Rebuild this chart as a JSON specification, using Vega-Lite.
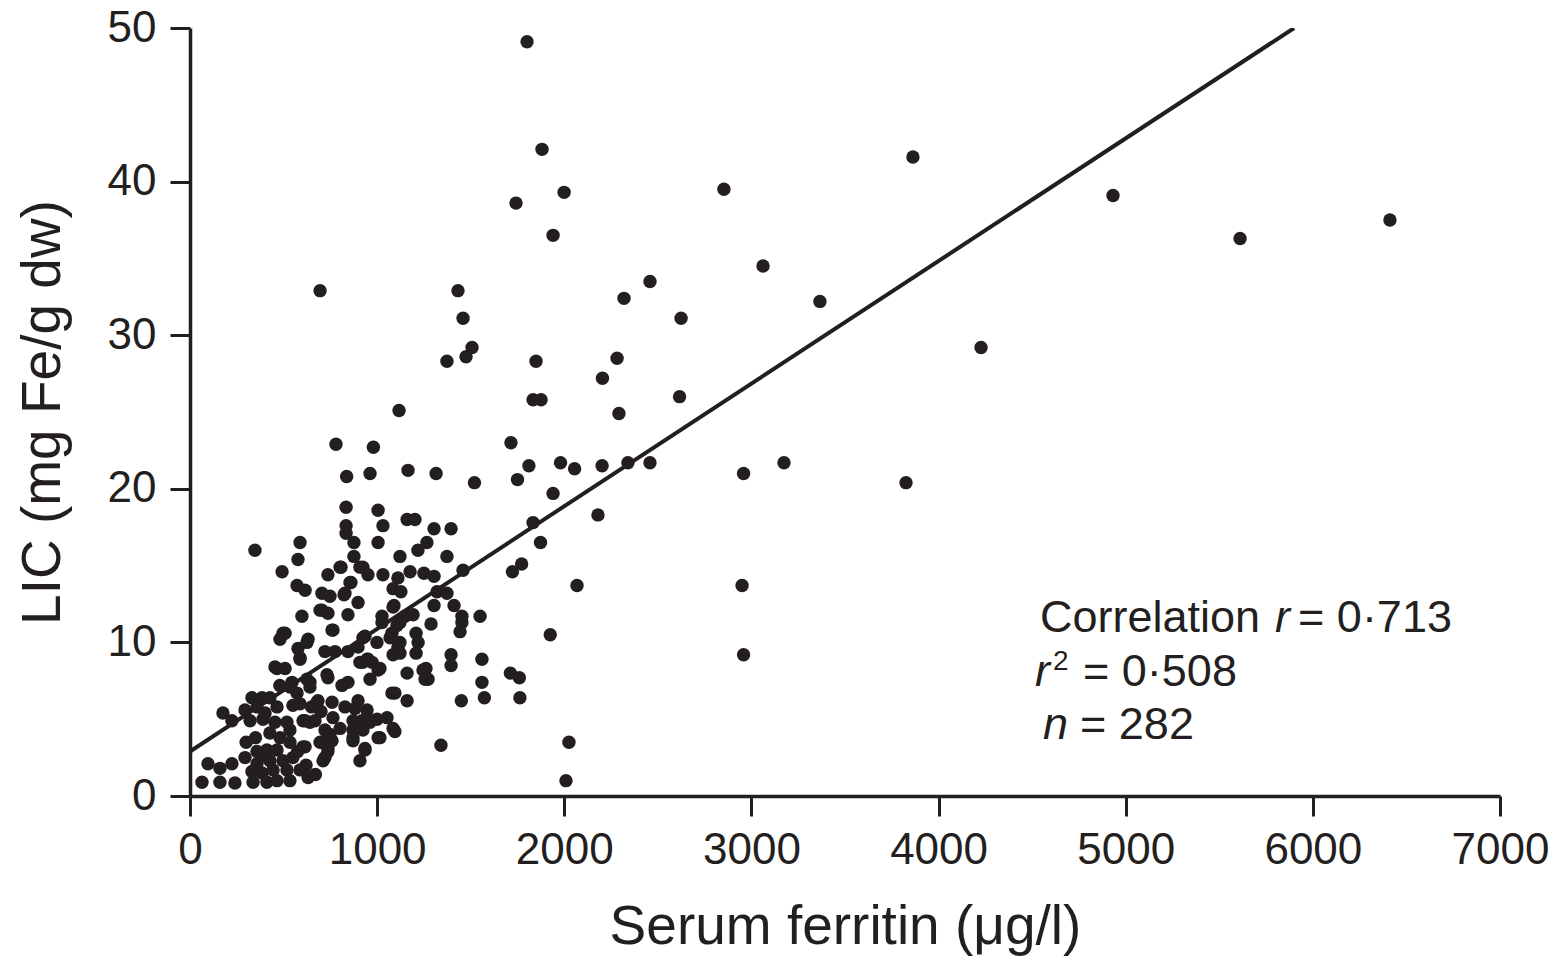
{
  "$schema": "https://vega.github.io/schema/vega-lite/v6.json",
  "autosize": "none",
  "width": 1310,
  "height": 768,
  "padding": {"left": 190, "top": 28, "right": 65, "bottom": 168},
  "background": "white",
  "config": {
    "view": {"stroke": null},
    "font": "Liberation Sans",
    "axis": {
      "grid": false,
      "domainColor": "#231f20",
      "domainWidth": 3.5,
      "tickColor": "#231f20",
      "tickWidth": 3,
      "tickSize": 20,
      "labelFont": "Liberation Sans",
      "labelFontSize": 44,
      "labelColor": "#231f20",
      "titleFont": "Liberation Sans",
      "titleFontSize": 55,
      "titleFontWeight": "normal",
      "titleColor": "#231f20"
    }
  },
  "datasets": {
    "points": [
      {"ferritin":1801,"lic":49.1},{"ferritin":1881,"lic":42.1},{"ferritin":1742,"lic":38.6},{"ferritin":1999,"lic":39.3},{"ferritin":1940,"lic":36.5},{"ferritin":2853,"lic":39.5},{"ferritin":3863,"lic":41.6},{"ferritin":4932,"lic":39.1},{"ferritin":5611,"lic":36.3},{"ferritin":6412,"lic":37.5},
      {"ferritin":3062,"lic":34.5},{"ferritin":3366,"lic":32.2},{"ferritin":2458,"lic":33.5},{"ferritin":2319,"lic":32.4},{"ferritin":2624,"lic":31.1},{"ferritin":2282,"lic":28.5},{"ferritin":4227,"lic":29.2},{"ferritin":2616,"lic":26.0},{"ferritin":2292,"lic":24.9},{"ferritin":695,"lic":32.9},
      {"ferritin":1432,"lic":32.9},{"ferritin":1459,"lic":31.1},{"ferritin":1507,"lic":29.2},{"ferritin":1475,"lic":28.6},{"ferritin":1373,"lic":28.3},{"ferritin":1849,"lic":28.3},{"ferritin":1833,"lic":25.8},{"ferritin":1876,"lic":25.8},{"ferritin":1117,"lic":25.1},{"ferritin":1715,"lic":23.0},
      {"ferritin":780,"lic":22.9},{"ferritin":980,"lic":22.7},{"ferritin":2204,"lic":27.2},{"ferritin":1980,"lic":21.7},{"ferritin":2055,"lic":21.3},{"ferritin":1811,"lic":21.5},{"ferritin":2202,"lic":21.5},{"ferritin":2340,"lic":21.7},{"ferritin":2458,"lic":21.7},{"ferritin":3174,"lic":21.7},
      {"ferritin":2958,"lic":21.0},{"ferritin":1750,"lic":20.6},{"ferritin":1520,"lic":20.4},{"ferritin":3826,"lic":20.4},{"ferritin":1940,"lic":19.7},{"ferritin":1165,"lic":21.2},{"ferritin":1315,"lic":21.0},{"ferritin":962,"lic":21.0},{"ferritin":837,"lic":20.8},{"ferritin":1833,"lic":17.8},
      {"ferritin":1873,"lic":16.5},{"ferritin":2180,"lic":18.3},{"ferritin":1772,"lic":15.1},{"ferritin":1723,"lic":14.6},{"ferritin":1459,"lic":14.7},{"ferritin":2068,"lic":13.7},{"ferritin":2950,"lic":13.7},{"ferritin":1925,"lic":10.5},{"ferritin":2958,"lic":9.2},{"ferritin":1550,"lic":11.7},
      {"ferritin":1712,"lic":8.0},{"ferritin":1760,"lic":7.7},{"ferritin":1763,"lic":6.4},{"ferritin":1573,"lic":6.4},{"ferritin":1450,"lic":6.2},{"ferritin":1341,"lic":3.3},{"ferritin":2025,"lic":3.5},{"ferritin":2009,"lic":1.0},{"ferritin":347,"lic":16.0},
      {"ferritin":834,"lic":18.8},{"ferritin":1005,"lic":18.6},{"ferritin":834,"lic":17.6},{"ferritin":834,"lic":17.1},{"ferritin":1031,"lic":17.6},{"ferritin":1160,"lic":18.0},{"ferritin":1202,"lic":18.0},{"ferritin":1304,"lic":17.4},{"ferritin":1395,"lic":17.4},{"ferritin":588,"lic":16.5},
      {"ferritin":876,"lic":16.5},{"ferritin":1005,"lic":16.5},{"ferritin":1266,"lic":16.5},{"ferritin":577,"lic":15.4},{"ferritin":876,"lic":15.6},{"ferritin":1122,"lic":15.6},{"ferritin":1218,"lic":16.0},{"ferritin":1373,"lic":15.6},{"ferritin":492,"lic":14.6},{"ferritin":807,"lic":14.9},
      {"ferritin":924,"lic":14.9},{"ferritin":951,"lic":14.4},{"ferritin":737,"lic":14.4},{"ferritin":1031,"lic":14.4},{"ferritin":1111,"lic":14.2},{"ferritin":1176,"lic":14.6},{"ferritin":1250,"lic":14.5},{"ferritin":1304,"lic":14.3},{"ferritin":572,"lic":13.7},{"ferritin":615,"lic":13.4},
      {"ferritin":705,"lic":13.2},{"ferritin":748,"lic":13.0},{"ferritin":823,"lic":13.1},{"ferritin":860,"lic":13.9},{"ferritin":898,"lic":12.6},{"ferritin":1085,"lic":13.5},{"ferritin":1127,"lic":13.3},{"ferritin":1320,"lic":13.3},{"ferritin":1373,"lic":13.2},{"ferritin":1090,"lic":12.4},
      {"ferritin":1304,"lic":12.4},{"ferritin":1411,"lic":12.4},{"ferritin":598,"lic":11.7},{"ferritin":705,"lic":12.1},{"ferritin":737,"lic":11.9},{"ferritin":844,"lic":11.8},{"ferritin":1026,"lic":11.7},{"ferritin":1149,"lic":11.7},{"ferritin":1192,"lic":11.8},{"ferritin":1453,"lic":11.7},
      {"ferritin":1560,"lic":8.9},{"ferritin":1560,"lic":7.4},{"ferritin":1395,"lic":9.2},{"ferritin":1395,"lic":8.5},{"ferritin":1443,"lic":10.7},{"ferritin":1453,"lic":11.3},{"ferritin":1288,"lic":11.2},{"ferritin":1261,"lic":8.3},{"ferritin":1272,"lic":7.6},{"ferritin":1160,"lic":8.0},
      {"ferritin":1160,"lic":6.2},{"ferritin":1095,"lic":6.7},{"ferritin":1095,"lic":4.2},{"ferritin":1208,"lic":10.6},{"ferritin":1219,"lic":10.0},{"ferritin":1208,"lic":9.3},{"ferritin":1122,"lic":10.0},{"ferritin":1122,"lic":9.3},{"ferritin":1122,"lic":11.3},
      {"ferritin":508,"lic":10.6},{"ferritin":577,"lic":9.6},{"ferritin":631,"lic":10.2},{"ferritin":588,"lic":8.9},{"ferritin":465,"lic":8.3},{"ferritin":508,"lic":8.3},{"ferritin":545,"lic":7.4},{"ferritin":641,"lic":7.4},{"ferritin":721,"lic":9.4},{"ferritin":775,"lic":9.4},
      {"ferritin":844,"lic":9.4},{"ferritin":898,"lic":9.7},{"ferritin":759,"lic":10.8},{"ferritin":935,"lic":10.4},{"ferritin":999,"lic":10.0},{"ferritin":1026,"lic":11.3},{"ferritin":1079,"lic":10.6},{"ferritin":1111,"lic":9.7},{"ferritin":908,"lic":8.7},{"ferritin":951,"lic":8.9},
      {"ferritin":1005,"lic":8.2},{"ferritin":962,"lic":7.6},{"ferritin":737,"lic":7.7},{"ferritin":812,"lic":7.2},{"ferritin":1079,"lic":6.7},{"ferritin":684,"lic":6.2},{"ferritin":759,"lic":6.1},{"ferritin":828,"lic":5.8},{"ferritin":882,"lic":5.7},{"ferritin":946,"lic":5.6},
      {"ferritin":919,"lic":4.9},{"ferritin":962,"lic":4.8},{"ferritin":1053,"lic":5.1},{"ferritin":1085,"lic":4.4},{"ferritin":1005,"lic":3.8},{"ferritin":935,"lic":3.1},{"ferritin":871,"lic":3.6},{"ferritin":748,"lic":4.0},{"ferritin":705,"lic":3.5},{"ferritin":737,"lic":3.1},
      {"ferritin":711,"lic":2.3},{"ferritin":908,"lic":2.3},{"ferritin":481,"lic":10.2},{"ferritin":497,"lic":10.6},{"ferritin":454,"lic":8.4},{"ferritin":625,"lic":7.6},{"ferritin":641,"lic":7.1},{"ferritin":732,"lic":7.9},{"ferritin":844,"lic":7.4},{"ferritin":1245,"lic":8.2},
      {"ferritin":1256,"lic":7.6},{"ferritin":924,"lic":10.3},{"ferritin":1069,"lic":10.3},{"ferritin":1106,"lic":11.1},{"ferritin":1085,"lic":9.2},{"ferritin":946,"lic":8.9},{"ferritin":764,"lic":10.8},{"ferritin":924,"lic":8.7},{"ferritin":973,"lic":8.7},{"ferritin":1015,"lic":8.3},
      {"ferritin":695,"lic":12.1},{"ferritin":1085,"lic":12.3},
      {"ferritin":64,"lic":0.9},{"ferritin":160,"lic":0.9},{"ferritin":240,"lic":0.85},{"ferritin":96,"lic":2.1},{"ferritin":160,"lic":1.8},{"ferritin":224,"lic":2.1},{"ferritin":294,"lic":2.5},{"ferritin":176,"lic":5.4},{"ferritin":224,"lic":4.9},{"ferritin":294,"lic":5.6},
      {"ferritin":331,"lic":6.4},{"ferritin":385,"lic":6.4},{"ferritin":427,"lic":6.4},{"ferritin":358,"lic":5.8},{"ferritin":321,"lic":4.9},{"ferritin":401,"lic":5.4},{"ferritin":465,"lic":5.8},{"ferritin":534,"lic":7.1},{"ferritin":572,"lic":6.7},{"ferritin":550,"lic":5.9},
      {"ferritin":454,"lic":4.8},{"ferritin":518,"lic":4.8},{"ferritin":604,"lic":4.9},{"ferritin":641,"lic":4.8},{"ferritin":427,"lic":4.1},{"ferritin":481,"lic":3.8},{"ferritin":534,"lic":4.3},{"ferritin":604,"lic":3.2},{"ferritin":534,"lic":3.5},{"ferritin":411,"lic":3.0},
      {"ferritin":358,"lic":2.9},{"ferritin":465,"lic":3.0},{"ferritin":358,"lic":2.1},{"ferritin":427,"lic":2.3},{"ferritin":497,"lic":2.3},{"ferritin":550,"lic":2.5},{"ferritin":331,"lic":1.6},{"ferritin":385,"lic":1.5},{"ferritin":444,"lic":1.7},{"ferritin":518,"lic":1.7},
      {"ferritin":588,"lic":1.7},{"ferritin":337,"lic":0.9},{"ferritin":411,"lic":0.9},{"ferritin":465,"lic":1.0},{"ferritin":534,"lic":1.0},{"ferritin":631,"lic":1.2},{"ferritin":615,"lic":4.9},{"ferritin":668,"lic":4.9},{"ferritin":764,"lic":5.1},{"ferritin":871,"lic":4.9},
      {"ferritin":946,"lic":5.1},{"ferritin":721,"lic":4.3},{"ferritin":802,"lic":4.4},{"ferritin":871,"lic":4.3},{"ferritin":924,"lic":4.3},{"ferritin":759,"lic":3.6},{"ferritin":871,"lic":3.8},{"ferritin":1015,"lic":3.8},{"ferritin":695,"lic":3.5},{"ferritin":615,"lic":3.2},
      {"ferritin":737,"lic":2.9},{"ferritin":935,"lic":3.0},{"ferritin":721,"lic":2.5},{"ferritin":679,"lic":6.1},{"ferritin":588,"lic":9.0},{"ferritin":625,"lic":10.0},{"ferritin":802,"lic":14.9},{"ferritin":908,"lic":14.9},{"ferritin":855,"lic":13.9},{"ferritin":828,"lic":13.2},
      {"ferritin":898,"lic":6.2},{"ferritin":588,"lic":6.0},{"ferritin":650,"lic":5.8},{"ferritin":700,"lic":5.5},{"ferritin":1000,"lic":5.0},{"ferritin":480,"lic":7.2},{"ferritin":390,"lic":5.0},{"ferritin":350,"lic":3.8},{"ferritin":300,"lic":3.5},{"ferritin":620,"lic":2.0},
      {"ferritin":670,"lic":1.4},{"ferritin":575,"lic":2.9},{"ferritin":400,"lic":2.6}
    ],
    "fit": [{"ferritin": 0, "lic": 2.9}, {"ferritin": 5900, "lic": 50}],
    "annNormal": [
      {"ferritin": 4542, "lic": 10.68, "label": "Correlation"},
      {"ferritin": 5921, "lic": 10.68, "label": "= 0·713"},
      {"ferritin": 4772, "lic": 7.16, "label": "= 0·508"},
      {"ferritin": 4756, "lic": 3.71, "label": "= 282"}
    ],
    "annItalic": [
      {"ferritin": 5798, "lic": 10.68, "label": "r"},
      {"ferritin": 4515, "lic": 7.16, "label": "r"},
      {"ferritin": 4558, "lic": 3.71, "label": "n"}
    ],
    "annSup": [
      {"ferritin": 4612, "lic": 8.2, "label": "2"}
    ]
  },
  "encoding": {
    "x": {
      "field": "ferritin", "type": "quantitative",
      "scale": {"domain": [0, 7000], "nice": false, "zero": false},
      "axis": {"values": [0,1000,2000,3000,4000,5000,6000,7000], "format": "d", "title": "Serum ferritin (μg/l)", "labelPadding": 12, "titlePadding": 28, "labelFlush": false}
    },
    "y": {
      "field": "lic", "type": "quantitative",
      "scale": {"domain": [0, 50], "nice": false, "zero": false},
      "axis": {"values": [0,10,20,30,40,50], "format": "d", "title": "LIC (mg Fe/g dw)", "labelPadding": 14, "titlePadding": 36, "labelFlush": false}
    }
  },
  "layer": [
    {
      "data": {"name": "points"},
      "mark": {"type": "circle", "size": 180, "color": "#231f20", "opacity": 1}
    },
    {
      "data": {"name": "fit"},
      "mark": {"type": "line", "color": "#231f20", "strokeWidth": 4, "clip": true}
    },
    {
      "data": {"name": "annNormal"},
      "mark": {"type": "text", "align": "left", "baseline": "alphabetic", "fontSize": 45, "color": "#231f20", "font": "Liberation Sans"},
      "encoding": {"text": {"field": "label"}}
    },
    {
      "data": {"name": "annItalic"},
      "mark": {"type": "text", "align": "left", "baseline": "alphabetic", "fontSize": 45, "fontStyle": "italic", "color": "#231f20", "font": "Liberation Sans"},
      "encoding": {"text": {"field": "label"}}
    },
    {
      "data": {"name": "annSup"},
      "mark": {"type": "text", "align": "left", "baseline": "alphabetic", "fontSize": 28, "color": "#231f20", "font": "Liberation Sans"},
      "encoding": {"text": {"field": "label"}}
    }
  ]
}
